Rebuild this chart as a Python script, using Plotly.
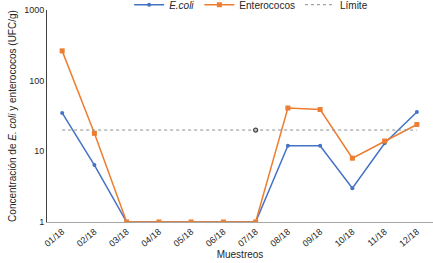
import plotly.graph_objects as go

categories = ["01/18", "02/18", "03/18", "04/18", "05/18", "06/18", "07/18",
              "08/18", "09/18", "10/18", "11/18", "12/18"]
ecoli = [35, 6.4, 1, 1, 1, 1, 1, 12, 12, 3, 13, 36]
enterococos = [264, 18, 1, 1, 1, 1, 1, 41, 39, 8, 14, 24]
limite = [20] * len(categories)
limite_marker_idx = 6

x_idx = list(range(len(categories)))

fig = go.Figure()
fig.add_trace(go.Scatter(
    x=x_idx, y=ecoli, name="<i>E.coli</i>", mode="lines+markers",
    line=dict(color="#4472C4", width=1.5),
    marker=dict(symbol="circle", size=4, color="#4472C4"),
))
fig.add_trace(go.Scatter(
    x=x_idx, y=enterococos, name="Enterococos", mode="lines+markers",
    line=dict(color="#ED7D31", width=1.5),
    marker=dict(symbol="square", size=5, color="#ED7D31"),
))
fig.add_trace(go.Scatter(
    x=x_idx, y=limite, name="Límite", mode="lines",
    line=dict(color="#8C8C8C", width=1, dash="dot"),
))
fig.add_trace(go.Scatter(
    x=[x_idx[limite_marker_idx]], y=[limite[limite_marker_idx]], mode="markers",
    showlegend=False,
    marker=dict(symbol="circle-open", size=4, color="#404040", line=dict(width=1.2)),
))

fig.update_layout(
    width=433, height=263,
    margin=dict(l=47, r=0, t=10, b=41, autoexpand=False),
    paper_bgcolor="white", plot_bgcolor="white",
    font=dict(family="Liberation Sans, Arial", size=10, color="#262626"),
    legend=dict(orientation="h", xref="container", yref="paper",
                x=0.58, xanchor="center", y=1.025, yanchor="middle",
                font=dict(size=10), bgcolor="rgba(0,0,0,0)",
                itemwidth=30, tracegroupgap=0),
    xaxis=dict(
        tickmode="array", tickvals=x_idx, ticktext=categories,
        range=[-0.47, 11.5], tickangle=-40, showgrid=False, zeroline=False,
        showline=True, linecolor="#A6A6A6", linewidth=1, ticks="",
        tickfont=dict(size=9), automargin=False,
        title=dict(text="Muestreos", font=dict(size=10), standoff=0),
    ),
    yaxis=dict(
        type="log", range=[0, 3], tickvals=[1, 10, 100, 1000],
        ticktext=["1", "10", "100", "1000"], showgrid=False, zeroline=False,
        showline=True, linecolor="#404040", linewidth=1, ticks="",
        tickfont=dict(size=9), automargin=False,
        title=dict(text="Concentración de <i>E. coli</i> y enterococos (UFC/g)",
                   font=dict(size=10), standoff=5),
    ),
)

fig.write_html("out.html", config={"displayModeBar": False},
               post_script="document.body.style.margin='0';")
